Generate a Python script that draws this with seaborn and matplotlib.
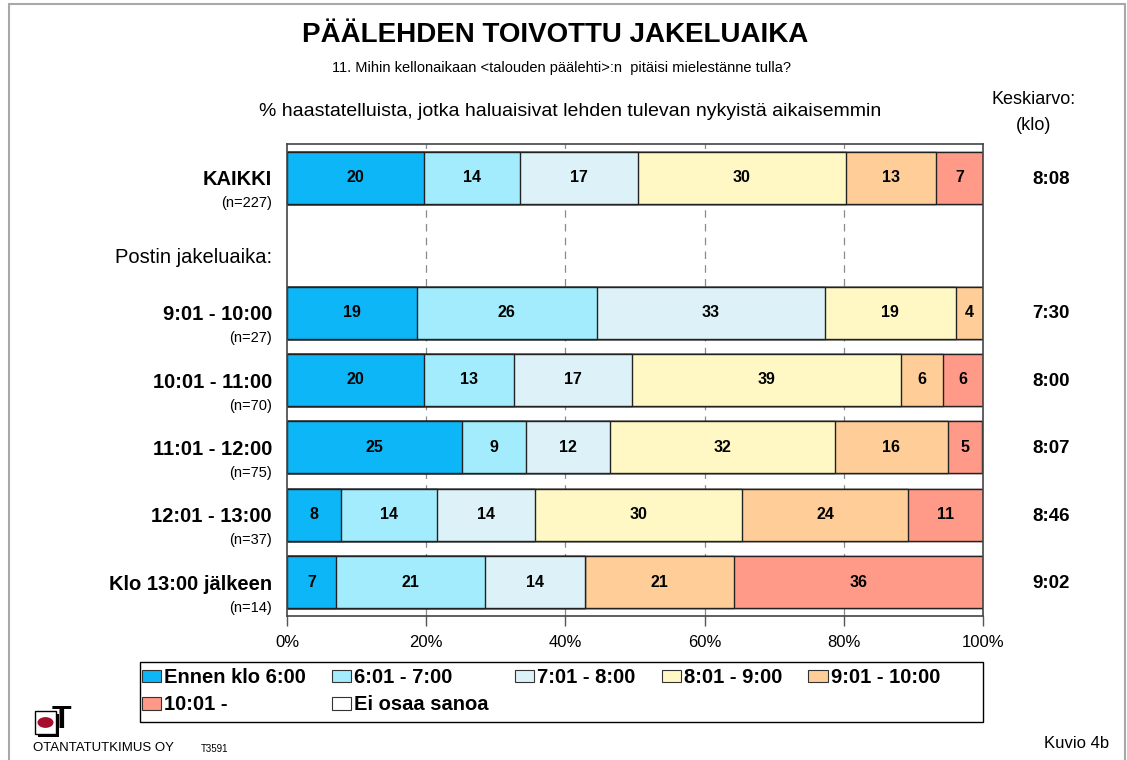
import numpy as np
import pandas as pd
import matplotlib
matplotlib.use("Agg")
import matplotlib.pyplot as plt
from matplotlib.patches import Patch, Rectangle, Circle
from matplotlib.lines import Line2D
import seaborn as sns

# ---------------- data ----------------
categories = ["KAIKKI", "Postin jakeluaika:", "9:01 - 10:00", "10:01 - 11:00",
              "11:01 - 12:00", "12:01 - 13:00", "Klo 13:00 jälkeen"]
n_labels = ["(n=227)", "", "(n=27)", "(n=70)", "(n=75)", "(n=37)", "(n=14)"]
header_row = "Postin jakeluaika:"
bar_groups = ["KAIKKI", "9:01 - 10:00", "10:01 - 11:00", "11:01 - 12:00",
              "12:01 - 13:00", "Klo 13:00 jälkeen"]

series_names = ["Ennen klo 6:00", "6:01 - 7:00", "7:01 - 8:00", "8:01 - 9:00",
                "9:01 - 10:00", "10:01 -", "Ei osaa sanoa"]
ennen_6 = [19.7, 18.7, 19.7, 25.1, 7.8, 7.1]
v_601_700 = [13.8, 25.8, 12.9, 9.2, 13.8, 21.4]
v_701_800 = [16.9, 32.8, 17.0, 12.1, 14.0, 14.3]
v_801_900 = [29.9, 18.8, 38.6, 32.4, 29.8, 0.0]
v_901_1000 = [12.9, 3.9, 6.0, 16.1, 23.8, 21.4]
v_1001 = [6.8, 0.0, 5.8, 5.0, 10.8, 35.8]
ei_osaa = [0.0, 0.0, 0.0, 0.0, 0.0, 0.0]
keskiarvo = ["8:08", "7:30", "8:00", "8:07", "8:46", "9:02"]
x_ticks = [0, 20, 40, 60, 80, 100]

colors = ["#0DB6F6", "#A2ECFD", "#DDF2F8", "#FFF8C4", "#FFCE98", "#FF9A88", "#FFFFFF"]

# ---------------- figure ----------------
sns.set_style("white")
plt.rcParams["font.family"] = ["Liberation Sans", "DejaVu Sans"]
plt.rcParams["text.color"] = "black"
plt.rcParams["xtick.labelcolor"] = "black"

W, H = 1127, 760
fig = plt.figure(figsize=(W / 100, H / 100), dpi=100)
ax = fig.add_axes([287 / W, 1 - 616 / H, 696 / W, (616 - 144) / H])

def fx(px):
    return px / W

def fy(py):
    return 1 - py / H

vals = np.array([ennen_6, v_601_700, v_701_800, v_801_900, v_901_1000, v_1001, ei_osaa])
cum = np.cumsum(vals, axis=0)

# gridlines behind bars
for t in x_ticks[1:-1]:
    ax.axvline(t, color="#8a8a8a", lw=0.9, ls=(0, (6, 5)), zorder=0)

for k in range(len(series_names) - 1, -1, -1):
    df = pd.DataFrame({"group": bar_groups, "value": cum[k]})
    sns.barplot(data=df, x="value", y="group", order=categories, orient="h",
                color=colors[k], saturation=1, width=0.77, edgecolor="#222222",
                linewidth=1.0, ax=ax, zorder=2)

# segment labels
for k in range(len(series_names)):
    for g, grp in enumerate(bar_groups):
        v = vals[k, g]
        if v > 0:
            yi = categories.index(grp)
            ax.text(cum[k, g] - v / 2, yi, f"{int(round(v))}", ha="center", va="center",
                    fontsize=11.5, fontweight="bold", color="black", zorder=5)

ax.set_xlim(0, 100)
ax.set_ylim(len(categories) - 0.5, -0.5)
ax.set_xticks(x_ticks)
ax.set_xticklabels([f"{t}%" for t in x_ticks], fontsize=12)
ax.set_yticks([])
ax.set_xlabel("")
ax.set_ylabel("")
ax.tick_params(axis="x", direction="out", length=7, width=1, color="#555555", pad=7,
               bottom=True, labelcolor="black")
for s in ax.spines.values():
    s.set_color("#444444")
    s.set_linewidth(1.2)

# row labels
ytr = ax.get_yaxis_transform()
for i, (c, n) in enumerate(zip(categories, n_labels)):
    if c == header_row:
        ax.text(-0.0215, i + 0.19, c, transform=ytr, ha="right", va="center", fontsize=14.5)
    else:
        ax.text(-0.0215, i + 0.03, c, transform=ytr, ha="right", va="center",
                fontsize=14.5, fontweight="bold")
        ax.text(-0.0215, i + 0.38, n, transform=ytr, ha="right", va="center", fontsize=10.5)

# keskiarvo column
for grp, kv in zip(bar_groups, keskiarvo):
    yi = categories.index(grp)
    ax.text(1.0977, yi + 0.02, kv, transform=ytr, ha="center", va="center",
            fontsize=13.5, fontweight="bold")

# titles
fig.text(fx(555), fy(35), "PÄÄLEHDEN TOIVOTTU JAKELUAIKA", ha="center", va="center",
         fontsize=20, fontweight="bold")
fig.text(fx(561), fy(68), "11. Mihin kellonaikaan <talouden päälehti>:n  pitäisi mielestänne tulla?",
         ha="center", va="center", fontsize=10.5)
fig.text(fx(570), fy(112), "% haastatelluista, jotka haluaisivat lehden tulevan nykyistä aikaisemmin",
         ha="center", va="center", fontsize=14)
fig.text(fx(1034), fy(100), "Keskiarvo:", ha="center", va="center", fontsize=13)
fig.text(fx(1034), fy(125), "(klo)", ha="center", va="center", fontsize=13)

# legend (frame drawn separately to span the plot width)
fig.patches.append(Rectangle((fx(140), fy(722)), fx(983) - fx(140), fy(662) - fy(722),
                             transform=fig.transFigure, facecolor="white",
                             edgecolor="black", lw=1.0, zorder=0))
handles = [Patch(facecolor=c, edgecolor="#333333", linewidth=0.8) for c in colors]
order = [0, 5, 1, 6, 2, 3, 4]
leg = fig.legend([handles[i] for i in order], [series_names[i] for i in order],
                 ncol=5, loc="upper left", bbox_to_anchor=(fx(142), fy(668)),
                 frameon=False, prop={"weight": "bold", "size": 14.5},
                 handlelength=0.95, handleheight=0.6, handletextpad=0.15,
                 columnspacing=1.3, borderpad=0.0, labelspacing=0.42,
                 borderaxespad=0)

# footer
fig.text(fx(33), fy(748), "OTANTATUTKIMUS OY", ha="left", va="center", fontsize=9.5)
fig.text(fx(201), fy(749), "T3591", ha="left", va="center", fontsize=7)
fig.text(fx(1077), fy(743), "Kuvio 4b", ha="center", va="center", fontsize=12)

# logo
fig.patches.append(Rectangle((fx(38), fy(737)), fx(21), fy(714) - fy(737), transform=fig.transFigure,
                             facecolor="black", edgecolor="black", lw=0))
fig.patches.append(Rectangle((fx(35), fy(734)), fx(21), fy(711) - fy(734), transform=fig.transFigure,
                             facecolor="white", edgecolor="black", lw=1))
fig.patches.append(Circle((fx(45.5), fy(722.5)), fx(8), transform=fig.transFigure,
                          facecolor="#A50D2D", edgecolor="none"))
fig.text(fx(52), fy(720), "T", ha="left", va="center", fontsize=23, fontweight="bold")

# page border (left, top, right)
for xs, ys in [([9, 9], [4, 760]), ([9, 1125], [4, 4]), ([1125, 1125], [4, 760])]:
    fig.add_artist(Line2D([fx(x) for x in xs], [fy(y) for y in ys], transform=fig.transFigure,
                          color="#a8a8a8", lw=1.5))

fig.savefig("out.png", dpi=100)
